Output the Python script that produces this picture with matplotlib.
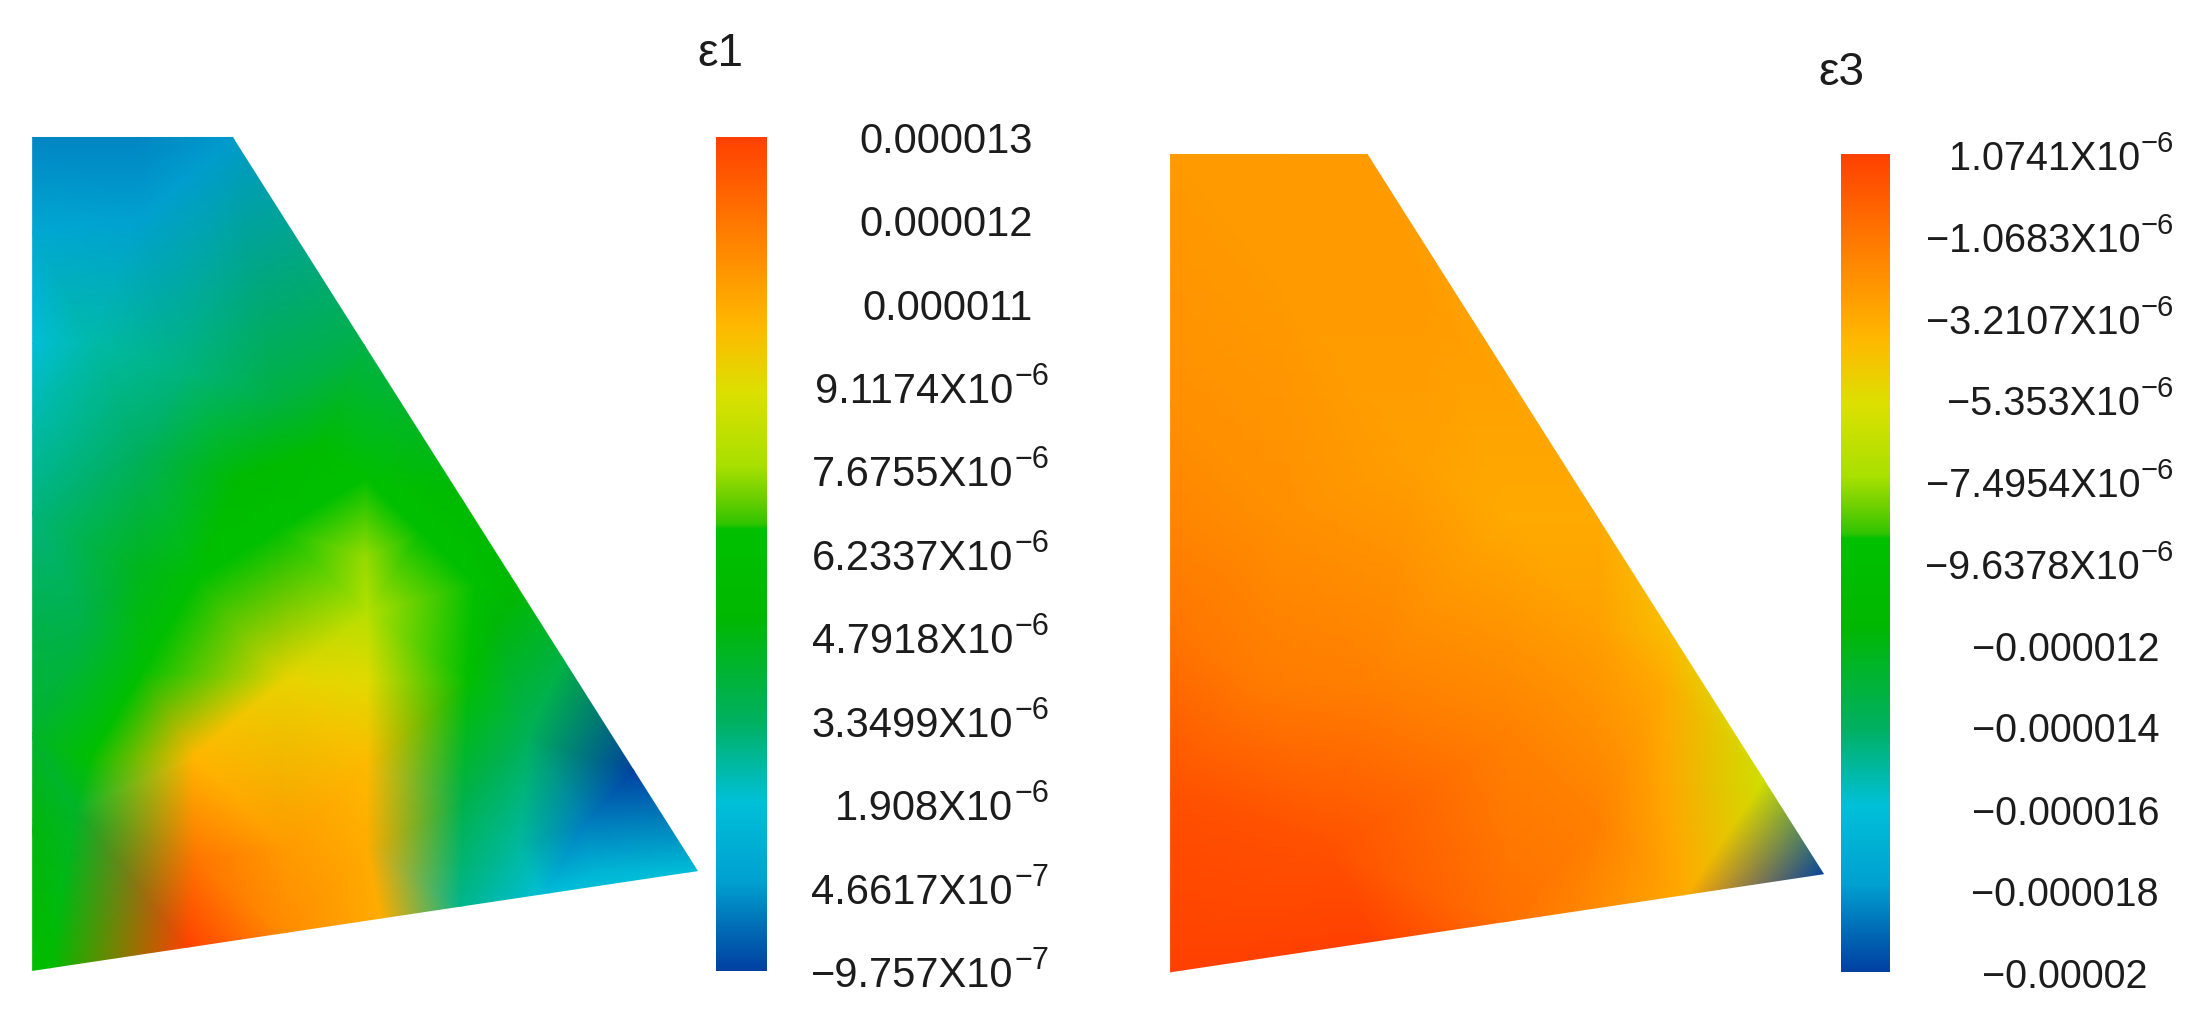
import numpy as np
import matplotlib
matplotlib.use("Agg")
import matplotlib.pyplot as plt
from matplotlib.colors import LinearSegmentedColormap, Normalize
from matplotlib.colorbar import ColorbarBase
from matplotlib.patches import Polygon

plt.rcParams['font.family'] = ['Liberation Sans', 'DejaVu Sans']
W, H = 2200, 1012
TXT = '#1c1c1c'

# ---------- data (strain values in units of 1e-6, mesh nodes in panel units) ----------
e1_tick_pos = [13.44, 12.0, 10.559, 9.1174, 7.6755, 6.2337, 4.7918, 3.3499, 1.908, 0.46617, -0.9757]
e1_labels = [('0.000013', None), ('0.000012', None), ('0.000011', None),
             ('9.1174X10', '\u22126'), ('7.6755X10', '\u22126'), ('6.2337X10', '\u22126'),
             ('4.7918X10', '\u22126'), ('3.3499X10', '\u22126'), ('1.908X10', '\u22126'),
             ('4.6617X10', '\u22127'), ('\u22129.757X10', '\u22127')]
e3_tick_pos = [1.0741, -1.0683, -3.2107, -5.353, -7.4954, -9.6378, -11.78, -13.92, -16.07, -18.21, -20.35]
e3_labels = [('1.0741X10', '\u22126'), ('\u22121.0683X10', '\u22126'), ('\u22123.2107X10', '\u22126'),
             ('\u22125.353X10', '\u22126'), ('\u22127.4954X10', '\u22126'), ('\u22129.6378X10', '\u22126'),
             ('\u22120.000012', None), ('\u22120.000014', None), ('\u22120.000016', None),
             ('\u22120.000018', None), ('\u22120.00002', None)]

e1_x = [68, 68, 68, 68, 68, 68, 68, 68, 68, 300, 509, 795, 1012, 1128, 1229, 1384, 1526,
        1180, 1005, 830, 620, 410, 110,
        300, 200, 400, 300, 600, 180, 300, 520, 700, 795, 430, 310, 196, 165,
        795, 800, 620, 800, 420, 800, 1035, 1020, 1008, 1080, 1150, 1130, 1275, 1300,
        425, 620, 800, 610, 915]
e1_y = [30, 200, 400, 550, 700, 900, 1100, 1250, 1521, 30, 30, 400, 680, 830, 960, 1160, 1342,
        1386, 1406, 1428, 1454, 1480, 1518,
        180, 400, 450, 600, 500, 900, 800, 640, 590, 640, 820, 985, 1139, 1230,
        780, 880, 1000, 1000, 1135, 1150, 830, 1000, 1210, 900, 1100, 1300, 1255, 1340,
        1320, 1300, 1300, 730, 735]
e1_val = [0.17, 0.9, 1.9, 2.5, 3.0, 3.7, 4.3, 4.9, 6.2, 0.15, 0.47, 3.8, 5.8, 5.4, 3.9, -0.98, 1.9,
          1.9, 2.8, 10.5, 11.4, 13.44, 6.0,
          0.6, 2.5, 3.0, 3.4, 3.9, 3.8, 4.6, 5.7, 6.0, 6.6, 6.65, 6.6, 6.6, 4.4,
          7.6, 8.1, 9.4, 9.2, 10.2, 10.1, 6.6, 6.4, 3.8, 5.0, 3.5, 2.6, 0.03, 1.47,
          12.0, 11.0, 10.5, 6.6, 6.6]
e1_outline = [(70, 32), (507, 32), (1520, 1340), (70, 1518)]

e3_x = [43, 43, 43, 43, 43, 43, 489, 300, 600, 1006, 1164, 1378, 1516,
        1198, 1000, 800, 500,
        300, 600, 300, 800, 1000, 500, 800, 1000, 250, 400, 1150, 1150]
e3_y = [43, 500, 700, 900, 1200, 1523, 43, 43, 300, 700, 900, 1170, 1345,
        1384, 1407, 1432, 1469,
        300, 600, 700, 700, 900, 1000, 1100, 1250, 1000, 1300, 1000, 1200]
e3_val = [-2.57, -2.14, -1.71, -1.07, 0.43, 1.07, -2.57, -2.57, -2.57, -3.21, -4.07, -6.0, -20.35,
          -3.21, -1.93, -0.86, 1.07,
          -2.57, -2.79, -2.14, -3.21, -2.79, -1.5, -1.5, -1.5, -1.29, 0.43, -3.21, -3.0]
e3_outline = [(45, 45), (487, 45), (1510, 1343), (45, 1520)]

cmap_stops = [(0.0, '#0040A0'), (0.047, '#0068B4'), (0.107, '#00A0D0'), (0.203, '#00C0D8'),
              (0.299, '#00B060'), (0.426, '#00B800'), (0.53, '#00C000'), (0.536, '#30C400'),
              (0.57, '#70D000'), (0.606, '#A8E000'), (0.694, '#DCE000'), (0.773, '#FFB800'),
              (0.88, '#FF8000'), (1.0, '#FF4000')]
cmap = LinearSegmentedColormap.from_list('strain', cmap_stops, N=2048)

fig = plt.figure(figsize=(W / 100, H / 100), dpi=100, facecolor='white')


def px_axes(x0, y0, x1, y1):
    return fig.add_axes([x0 / W, 1 - y1 / H, (x1 - x0) / W, (y1 - y0) / H])


def field(box, xs, ys, vals, outline, norm):
    ax = px_axes(*box)
    ax.set_xlim(0, 1568)
    ax.set_ylim(1568, 0)
    ax.axis('off')
    ax.patch.set_alpha(0)
    m = ax.tripcolor(np.array(xs, float), np.array(ys, float), np.array(vals, float),
                     shading='gouraud', cmap=cmap, norm=norm)
    m.set_clip_path(Polygon(outline, closed=True, transform=ax.transData))
    return ax


def bar(box, norm, positions, labels, base_pt, sup_pt, right_base, right_plain, title, tx, ty, t_pt):
    x0, y0, x1, y1 = box
    cax = px_axes(*box)
    cb = ColorbarBase(cax, cmap=cmap, norm=norm, orientation='vertical')
    cb.outline.set_visible(False)
    cb.set_ticks([])
    cb.ax.minorticks_off()
    for v, (base, sup), rb, rp in zip(positions, labels, right_base, right_plain):
        right = rb if sup else rp
        cax.annotate(base, xy=(0, v), xycoords=('axes fraction', 'data'),
                     xytext=((right - x0) * 0.72, -15 * 0.72), textcoords='offset points',
                     ha='right', va='baseline', fontsize=base_pt, color=TXT, annotation_clip=False)
        if sup:
            cax.annotate(sup, xy=(0, v), xycoords=('axes fraction', 'data'),
                         xytext=((right + 1 - x0) * 0.72, 3 * 0.72), textcoords='offset points',
                         ha='left', va='baseline', fontsize=sup_pt, color=TXT, annotation_clip=False)
    fig.text(tx / W, 1 - ty / H, title, fontsize=t_pt, color=TXT, ha='left', va='baseline')


norm1 = Normalize(-0.9757, 13.44)
norm3 = Normalize(-20.35, 1.0741)

field((0, 120, 720, 1000), e1_x, e1_y, e1_val, e1_outline, norm1)
field((1150, 130, 1850, 1000), e3_x, e3_y, e3_val, e3_outline, norm3)

bar((716, 138, 767, 972), norm1, e1_tick_pos, e1_labels, 30, 22,
    [1013] * 11, [1033] * 11, '\u03b51', 697, 66, 33)
bar((1841, 155, 1890, 973), norm3, e3_tick_pos, e3_labels, 28.5, 21,
    [2140] * 11, [2159] * 10 + [2147], '\u03b53', 1818, 85, 33)

fig.savefig('out.png', dpi=100, facecolor='white')
